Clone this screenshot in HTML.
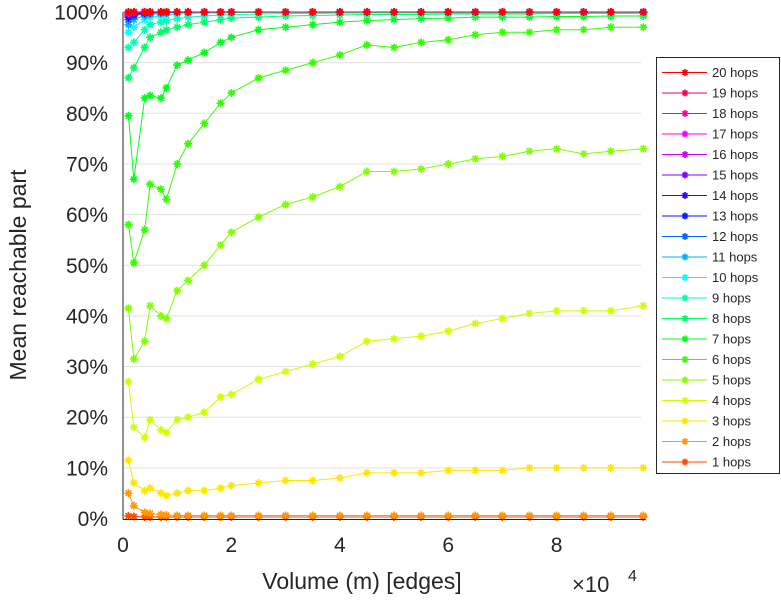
<!DOCTYPE html>
<html><head><meta charset="utf-8">
<style>
html,body{margin:0;padding:0;background:#fff;}
svg{display:block;font-family:"Liberation Sans",sans-serif;}
</style></head>
<body>
<svg id="chart" width="781" height="600" viewBox="0 0 781 600">
<g id="grid"></g>
<g id="series"></g>
<g id="axes"></g>
<g id="legend"></g>
</svg>
<script>
const xs = [0.1,0.2,0.4,0.5,0.7,0.8,1.0,1.2,1.5,1.8,2,2.5,3,3.5,4,4.5,5,5.5,6,6.5,7,7.5,8,8.5,9,9.6];
const s1 = [0.5,0.4,0.3,0.3,0.3,0.3,0.3,0.3,0.3,0.3,0.3,0.3,0.3,0.3,0.3,0.3,0.3,0.3,0.3,0.3,0.3,0.3,0.3,0.3,0.3,0.3];
const s2 = [5,2.5,1.2,1,0.8,0.7,0.6,0.6,0.6,0.6,0.6,0.6,0.6,0.6,0.6,0.6,0.6,0.6,0.6,0.6,0.6,0.6,0.6,0.6,0.6,0.6];
const s3 = [11.5,7,5.5,6,5,4.5,5,5.5,5.5,6,6.5,7,7.5,7.5,8,9,9,9,9.5,9.5,9.5,10,10,10,10,10];
const s4 = [27,18,16,19.5,17.5,17,19.5,20,21,24,24.5,27.5,29,30.5,32,35,35.5,36,37,38.5,39.5,40.5,41,41,41,42];
const s5 = [41.5,31.5,35,42,40,39.5,45,47,50,54,56.5,59.5,62,63.5,65.5,68.5,68.5,69,70,71,71.5,72.5,73,72,72.5,73];
const s6 = [58,50.5,57,66,65,63,70,74,78,82,84,87,88.5,90,91.5,93.5,93,94,94.5,95.5,96,96,96.5,96.5,97,97];
const s7 = [79.5,67,83,83.5,83,85,89.5,90.5,92,94,95,96.5,97,97.5,98,98.3,98.5,98.7,98.8,99,99,99,99.1,99.1,99.2,99.2];
const s8 = [87,89,93,95,96,96.5,97,97.5,98,98.5,98.8,99,99.2,99.3,99.4,99.5,99.5,99.5,99.6,99.6,99.6,99.6,99.7,99.7,99.7,99.7];
const s9 = [93,94,96.5,97.5,98,98.3,98.7,99,99.2,99.4,99.5,99.6,99.7,99.7,99.8,99.8,99.8,99.8,99.8,99.8,99.8,99.8,99.8,99.8,99.8,99.8];
const s10 = [96,97,98.5,99,99.2,99.4,99.6,99.7,99.8,99.8,99.9,99.9,99.9,99.9,99.9,99.9,99.9,99.9,99.9,99.9,99.9,99.9,99.9,99.9,99.9,99.9];
const s11 = [97.5,98.5,99.3,99.5,99.7,99.8,99.9,99.9,99.9,99.9,100,100,100,100,100,100,100,100,100,100,100,100,100,100,100,100];
const s12 = [98.5,99.2,99.7,99.8,99.9,99.9,100,100,100,100,100,100,100,100,100,100,100,100,100,100,100,100,100,100,100,100];
const s13 = [99,99.5,99.8,99.9,100,100,100,100,100,100,100,100,100,100,100,100,100,100,100,100,100,100,100,100,100,100];
const s14 = [99.4,99.7,99.9,100,100,100,100,100,100,100,100,100,100,100,100,100,100,100,100,100,100,100,100,100,100,100];
const s15 = [99.6,99.8,100,100,100,100,100,100,100,100,100,100,100,100,100,100,100,100,100,100,100,100,100,100,100,100];
const s16 = [99.7,99.9,100,100,100,100,100,100,100,100,100,100,100,100,100,100,100,100,100,100,100,100,100,100,100,100];
const s17 = [99.8,100,100,100,100,100,100,100,100,100,100,100,100,100,100,100,100,100,100,100,100,100,100,100,100,100];
const s18 = [99.9,100,100,100,100,100,100,100,100,100,100,100,100,100,100,100,100,100,100,100,100,100,100,100,100,100];
const s19 = [100,100,100,100,100,100,100,100,100,100,100,100,100,100,100,100,100,100,100,100,100,100,100,100,100,100];
const s20 = [100,100,100,100,100,100,100,100,100,100,100,100,100,100,100,100,100,100,100,100,100,100,100,100,100,100];
const series = [s1,s2,s3,s4,s5,s6,s7,s8,s9,s10,s11,s12,s13,s14,s15,s16,s17,s18,s19,s20];
const yTicks = [0,10,20,30,40,50,60,70,80,90,100];
const xTicks = [0,2,4,6,8];

const NS = "http://www.w3.org/2000/svg";
const X0 = 123, XS = 54.2, Y0 = 518.5, YS = 5.065;
const sx = v => X0 + v * XS;
const sy = v => Y0 - v * YS;
const col = k => `hsl(${(18*k)%360},100%,50%)`;
function mk(tag, attrs, parent){ const e=document.createElementNS(NS,tag); for(const k in attrs) e.setAttribute(k,attrs[k]); parent.appendChild(e); return e; }
function star(g, x, y, c, r){
  const d=`M${x-r},${y}H${x+r}M${x},${y-r}V${y+r}M${x-r*0.7},${y-r*0.7}L${x+r*0.7},${y+r*0.7}M${x-r*0.7},${y+r*0.7}L${x+r*0.7},${y-r*0.7}`;
  return mk('path',{d:d,stroke:c,'stroke-width':1.6,fill:'none'},g);
}
const grid=document.getElementById('grid'), sg=document.getElementById('series'), ax=document.getElementById('axes'), lg=document.getElementById('legend');

yTicks.forEach(t=>{
  if(t>0){ const l=mk('line',{x1:X0,x2:641,y1:sy(t),y2:sy(t),stroke:'#e3e3e3','stroke-width':1},grid);
  
   }
  const tx=mk('text',{x:108,y:sy(t)+7.5,'text-anchor':'end','font-size':21,fill:'#262626'},ax);
  tx.textContent=t+'%';
  
  
});
xTicks.forEach(t=>{
  const tx=mk('text',{x:sx(t),y:552,'text-anchor':'middle','font-size':21,fill:'#262626'},ax);
  tx.textContent=t;
  
  
});

series.forEach((vals,i)=>{
  const k=i+1, c=col(k);
  const g=mk('g',{},sg);
  
  
  const pts=vals.map((v,j)=>sx(xs[j])+','+sy(v)).join(' ');
  mk('polyline',{points:pts,fill:'none',stroke:c,'stroke-width':1},g);
  vals.forEach((v,j)=>star(g,sx(xs[j]),sy(v),c,4));
});

const yax=mk('line',{x1:X0,x2:X0,y1:12,y2:Y0+1,stroke:'#262626','stroke-width':1},ax);


const xax=mk('line',{x1:X0,x2:645,y1:Y0+1,y2:Y0+1,stroke:'#262626','stroke-width':1},ax);



const xl=mk('text',{x:362,y:589,'text-anchor':'middle','font-size':23,fill:'#262626'},ax);
xl.textContent='Volume (m) [edges]';


const yl=mk('text',{x:0,y:0,'text-anchor':'middle','font-size':23,fill:'#262626',transform:'translate(26,275) rotate(-90)'},ax);
yl.textContent='Mean reachable part';


const ex=mk('text',{x:572,y:592,'font-size':22,fill:'#262626'},ax);
ex.textContent='\u00d710';


const ex2=mk('text',{x:628,y:581,'font-size':16,fill:'#262626'},ax);
ex2.textContent='4';



const box=mk('rect',{x:656.5,y:57.5,width:123,height:416,fill:'#fff',stroke:'#262626','stroke-width':1},lg);


for(let k=20;k>=1;k--){
  const y=72.5+(20-k)*20.5, c=col(k);
  const g=mk('g',{},lg);
  
  
  mk('line',{x1:662,x2:707,y1:y,y2:y,stroke:c,'stroke-width':1},g);
  star(g,685,y,c,3.5);
  const t=mk('text',{x:712,y:y+4.5,'font-size':13,fill:'#262626'},g);
  t.textContent=k+' hops';
}
</script>
</body></html>
